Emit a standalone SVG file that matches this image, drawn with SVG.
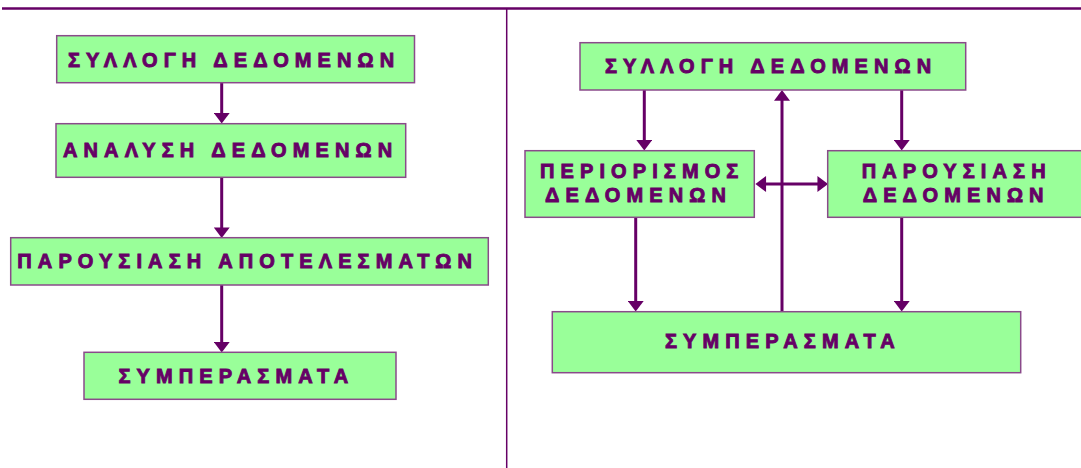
<svg xmlns="http://www.w3.org/2000/svg" width="1081" height="468" viewBox="0 0 1081 468">
<style>
.box{fill:#99FF99;stroke:#8a4a8a;stroke-width:1.5}
.t{font-family:"Liberation Sans",Arial,sans-serif;font-weight:bold;font-size:20px;letter-spacing:6.1px;fill:#660066;stroke:#660066;stroke-width:0.9}
.c{stroke:#660066;stroke-width:3;fill:none}
.frame{stroke:#660066;fill:none}
</style>
<defs>
<marker id="ah" markerUnits="userSpaceOnUse" markerWidth="12" markerHeight="16" viewBox="0 0 10 15" refX="1" refY="7.5" orient="auto-start-reverse">
<path d="M0,0 L10,7.5 L0,15 z" fill="#660066"/>
</marker>
</defs>
<g id="frame">
<line class="frame" x1="2" y1="8.5" x2="1081" y2="8.5" stroke-width="2.5"/>
<line class="frame" x1="506.7" y1="9" x2="506.7" y2="468" stroke-width="1.5"/>
</g>
<g id="connectors">
<line class="c" x1="221.7" y1="83" x2="221.7" y2="114" marker-end="url(#ah)"/>
<line class="c" x1="221.7" y1="177.5" x2="221.7" y2="228.5" marker-end="url(#ah)"/>
<line class="c" x1="221.7" y1="285" x2="221.7" y2="343" marker-end="url(#ah)"/>
<line class="c" x1="644.3" y1="90" x2="644.3" y2="141" marker-end="url(#ah)"/>
<line class="c" x1="901.7" y1="90" x2="901.7" y2="141" marker-end="url(#ah)"/>
<line class="c" x1="782" y1="311.7" x2="782" y2="99.7" marker-end="url(#ah)"/>
<line class="c" x1="765" y1="184" x2="818.5" y2="184" marker-start="url(#ah)" marker-end="url(#ah)"/>
<line class="c" x1="635.7" y1="217.3" x2="635.7" y2="302" marker-end="url(#ah)"/>
<line class="c" x1="901.7" y1="217.3" x2="901.7" y2="302" marker-end="url(#ah)"/>
</g>
<g id="l1">
<rect class="box" x="56.7" y="35.7" width="357.8" height="47"/>
<text class="t" x="68" y="66.7">ΣΥΛΛΟΓΗ ΔΕΔΟΜΕΝΩΝ</text>
</g>
<g id="l2">
<rect class="box" x="56" y="123.7" width="349.7" height="53.6"/>
<text class="t" x="63" y="157">ΑΝΑΛΥΣΗ ΔΕΔΟΜΕΝΩΝ</text>
</g>
<g id="l3">
<rect class="box" x="10.7" y="237.7" width="477.6" height="47.3"/>
<text class="t" x="17.3" y="267.7">ΠΑΡΟΥΣΙΑΣΗ ΑΠΟΤΕΛΕΣΜΑΤΩΝ</text>
</g>
<g id="l4">
<rect class="box" x="84" y="352.3" width="312" height="47"/>
<text class="t" x="118.5" y="382.5">ΣΥΜΠΕΡΑΣΜΑΤΑ</text>
</g>
<g id="r1">
<rect class="box" x="580" y="42.7" width="385.7" height="47.3"/>
<text class="t" x="605" y="73.3">ΣΥΛΛΟΓΗ ΔΕΔΟΜΕΝΩΝ</text>
</g>
<g id="r2">
<rect class="box" x="525" y="150.7" width="229.3" height="66.6"/>
<text class="t" x="540" y="178.3">ΠΕΡΙΟΡΙΣΜΟΣ</text>
<text class="t" x="545" y="201.7">ΔΕΔΟΜΕΝΩΝ</text>
</g>
<g id="r3">
<rect class="box" x="827.7" y="150.7" width="256" height="66.6"/>
<text class="t" x="861.7" y="178.3">ΠΑΡΟΥΣΙΑΣΗ</text>
<text class="t" x="862.7" y="201.7">ΔΕΔΟΜΕΝΩΝ</text>
</g>
<g id="r4">
<rect class="box" x="552.3" y="311.7" width="468.4" height="61"/>
<text class="t" x="665" y="347.7">ΣΥΜΠΕΡΑΣΜΑΤΑ</text>
</g>
</svg>
